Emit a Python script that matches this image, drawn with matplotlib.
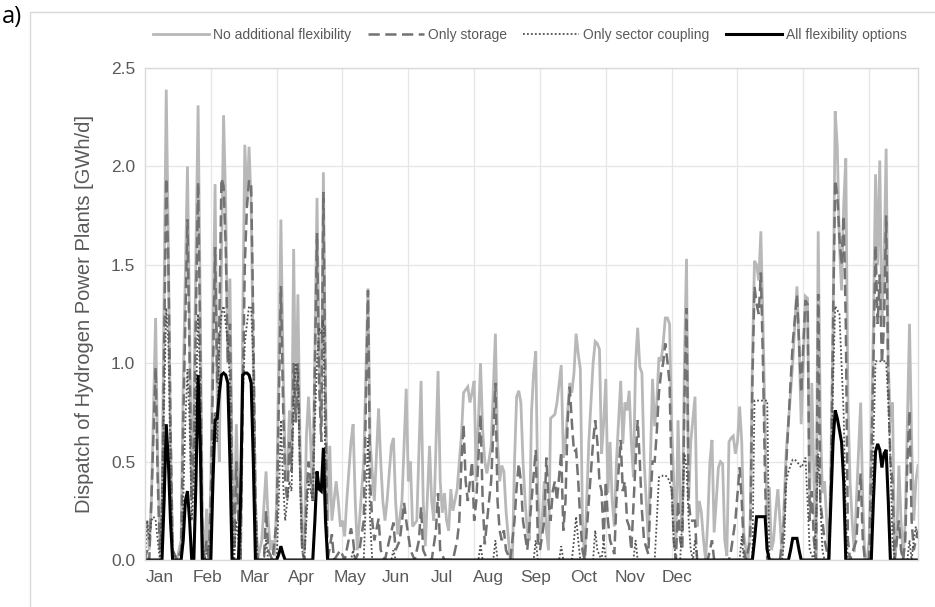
import matplotlib
matplotlib.use("Agg")
import matplotlib.pyplot as plt
from matplotlib.patches import Rectangle

plt.rcParams['font.family'] = ['Liberation Sans', 'DejaVu Sans']

# ---------------- data (day of year, GWh/d) ----------------
no_flex = [(0,0.18),(1,0.2),(2,0.05),(3,0.3),(5,1.23),(6,0.5),(7,0.1),(8,0.3),(10,2.39),(11,1.6),(12,0.6),(13,0.05),(15,0.0),(17,0.1),(18,0.9),(20,2.0),(21,1.2),(22,0.3),(23,0.8),(25,2.31),(26,1.3),(27,0.2),(28,0.0),(29,0.26),(30,0.0),(31,0.4),(33,1.91),(34,0.8),(35,0.5),(36,1.5),(37,2.26),(38,1.8),(39,1.0),(40,1.43),(41,0.5),(42,0.1),(43,0.69),(44,0.3),(45,0.05),(46,1.2),(47,2.11),(48,1.8),(49,2.1),(50,1.8),(51,1.0),(52,0.3),(53,0.0),(55,0.1),(57,0.45),(58,0.2),(59,0.05),(60,0.1),(61,0.02),(62,0.3),(64,1.73),(65,1.0),(66,0.5),(67,0.4),(68,0.76),(69,0.5),(70,1.58),(71,0.7),(72,1.35),(73,0.6),(74,0.1),(75,0.05),(76,0.63),(77,0.83),(78,0.6),(79,0.3),(81,1.84),(82,1.0),(83,0.7),(84,1.97),(85,0.9),(86,0.2),(87,0.58),(88,0.2),(90,0.4),(91,0.3),(92,0.17),(93,0.2),(94,0.12),(95,0.3),(97,0.6),(98,0.69),(99,0.3),(100,0.05),(101,0.2),(103,0.5),(105,1.38),(106,0.6),(107,0.45),(108,0.3),(110,0.77),(111,0.5),(112,0.3),(113,0.2),(114,0.3),(116,0.58),(117,0.62),(118,0.3),(119,0.13),(121,0.3),(123,0.87),(124,0.4),(125,0.5),(126,0.17),(128,0.2),(130,0.91),(131,0.3),(132,0.07),(134,0.58),(135,0.3),(136,0.2),(138,0.96),(139,0.4),(140,0.24),(141,0.34),(142,0.2),(143,0.15),(144,0.36),(145,0.25),(147,0.36),(148,0.5),(149,0.63),(150,0.85),(152,0.88),(153,0.8),(154,0.85),(155,0.91),(156,0.4),(158,1.0),(159,0.66),(160,0.5),(161,0.44),(163,0.58),(165,1.15),(166,0.6),(167,0.4),(168,0.48),(169,0.45),(170,0.25),(172,0.0),(173,0.0),(174,0.5),(175,0.83),(176,0.86),(177,0.8),(178,0.5),(179,0.3),(180,0.15),(181,0.1),(182,0.75),(183,0.95),(184,1.06),(185,0.34),(186,0.1),(187,0.2),(188,0.4),(189,0.15),(190,0.05),(191,0.72),(192,0.73),(193,0.74),(194,0.8),(196,0.99),(197,0.52),(198,0.6),(200,0.9),(201,0.85),(202,0.95),(203,1.15),(204,1.05),(205,0.97),(206,0.2),(207,0.0),(208,0.3),(209,0.6),(211,1.0),(212,1.11),(213,1.1),(214,1.07),(215,0.54),(216,0.7),(217,0.92),(218,0.34),(219,0.6),(220,0.3),(221,0.17),(222,0.5),(224,0.91),(225,0.59),(226,0.8),(227,0.76),(228,0.86),(229,0.6),(230,0.42),(231,1.0),(232,1.18),(233,0.98),(234,0.95),(235,0.51),(236,0.3),(237,0.1),(238,0.5),(239,0.92),(240,0.68),(241,0.8),(242,1.03),(243,1.01),(244,1.1),(245,1.23),(246,1.23),(247,1.2),(248,0.68),(249,0.4),(250,0.08),(251,0.71),(252,0.3),(253,0.14),(254,1.0),(255,1.53),(256,0.3),(257,0.6),(259,0.83),(260,0.17),(261,0.3),(262,0.24),(263,0.1),(264,0.0),(265,0.2),(266,0.5),(267,0.61),(268,0.14),(269,0.3),(270,0.47),(271,0.5),(272,0.49),(273,0.1),(274,0.02),(275,0.6),(276,0.62),(277,0.63),(278,0.54),(279,0.6),(280,0.78),(281,0.6),(282,0.13),(283,0.05),(284,0.0),(285,0.2),(286,1.0),(287,1.52),(288,1.5),(289,1.42),(290,1.67),(291,1.2),(292,0.68),(293,0.2),(294,0.37),(295,0.05),(296,0.1),(297,0.25),(298,0.36),(299,0.2),(300,0.02),(301,0.3),(302,0.56),(303,0.7),(304,0.85),(305,1.0),(306,1.2),(307,1.39),(308,1.1),(309,0.69),(310,1.0),(311,1.34),(312,1.33),(313,0.3),(314,0.9),(315,0.4),(316,0.02),(317,1.67),(318,0.7),(319,0.34),(320,0.4),(321,0.2),(322,0.0),(323,0.5),(324,1.2),(325,2.28),(326,2.1),(327,1.6),(328,1.37),(329,1.8),(330,2.04),(331,0.8),(332,0.4),(333,0.2),(334,0.04),(335,0.3),(337,0.8),(338,0.3),(339,0.0),(340,0.0),(341,0.1),(342,0.6),(343,1.2),(344,1.96),(345,1.5),(346,2.03),(347,1.2),(348,1.5),(349,2.09),(350,1.0),(351,0.7),(352,0.8),(353,0.0),(354,0.1),(355,0.48),(356,0.2),(357,0.0),(358,0.2),(359,0.7),(360,1.2),(361,0.6),(362,0.2),(363,0.4),(364,0.48)]

only_storage = [(0,0.0),(1,0.05),(2,0.0),(3,0.3),(5,0.98),(6,0.4),(7,0.05),(8,0.2),(10,1.94),(11,1.5),(12,0.7),(13,0.05),(15,0.0),(17,0.05),(18,0.7),(20,1.73),(21,1.0),(22,0.3),(23,0.6),(25,1.92),(26,1.1),(27,0.1),(28,0.0),(29,0.1),(30,0.0),(31,0.3),(33,1.59),(34,0.9),(35,1.2),(36,1.94),(37,1.9),(38,1.6),(39,1.0),(40,1.2),(41,0.4),(42,0.05),(43,0.5),(44,0.2),(45,0.0),(46,0.8),(47,1.5),(48,1.8),(49,1.93),(50,1.9),(51,1.2),(52,0.3),(53,0.0),(56,0.0),(57,0.25),(58,0.05),(60,0.0),(62,0.2),(64,1.39),(65,0.8),(66,0.4),(67,0.3),(68,0.6),(69,0.45),(70,1.0),(71,0.7),(72,1.0),(73,0.5),(74,0.05),(75,0.0),(76,0.3),(77,0.5),(78,0.4),(79,0.3),(81,1.66),(82,0.9),(83,0.6),(84,1.87),(85,0.8),(86,0.0),(88,0.13),(89,0.0),(92,0.05),(94,0.0),(97,0.16),(98,0.1),(99,0.0),(101,0.05),(103,0.2),(105,1.37),(106,0.4),(107,0.2),(108,0.1),(110,0.21),(111,0.05),(113,0.0),(115,0.1),(117,0.19),(118,0.05),(120,0.1),(122,0.29),(123,0.2),(125,0.05),(127,0.0),(129,0.1),(130,0.27),(131,0.05),(133,0.0),(135,0.0),(137,0.15),(138,0.34),(139,0.05),(141,0.0),(145,0.0),(147,0.1),(148,0.2),(149,0.5),(150,0.69),(151,0.4),(152,0.3),(153,0.4),(154,0.5),(155,0.2),(156,0.3),(158,0.74),(159,0.3),(160,0.08),(162,0.3),(163,0.4),(165,0.9),(166,0.3),(167,0.15),(168,0.1),(169,0.15),(170,0.05),(172,0.0),(174,0.2),(175,0.37),(176,0.49),(177,0.4),(178,0.2),(180,0.05),(182,0.3),(184,0.56),(185,0.1),(186,0.05),(188,0.2),(189,0.52),(190,0.3),(191,0.2),(192,0.35),(193,0.4),(194,0.3),(196,0.55),(197,0.15),(198,0.3),(199,0.7),(200,0.88),(201,0.7),(202,0.55),(203,0.56),(204,0.4),(205,0.2),(206,0.05),(207,0.0),(209,0.3),(211,0.6),(212,0.71),(213,0.6),(214,0.4),(215,0.35),(216,0.1),(217,0.4),(218,0.2),(219,0.1),(221,0.03),(222,0.3),(224,0.61),(225,0.35),(226,0.4),(227,0.2),(228,0.17),(229,0.05),(231,0.5),(232,0.71),(233,0.5),(234,0.25),(235,0.1),(237,0.03),(238,0.3),(239,0.5),(240,0.5),(241,0.65),(242,0.85),(243,0.95),(244,1.0),(245,1.1),(246,1.01),(247,0.9),(248,0.4),(249,0.1),(250,0.0),(251,0.3),(252,0.1),(253,0.05),(254,0.8),(255,1.28),(256,0.3),(257,0.2),(259,0.2),(260,0.0),(265,0.0),(266,0.05),(267,0.1),(268,0.0),(275,0.0),(276,0.05),(278,0.2),(280,0.47),(281,0.3),(282,0.05),(283,0.0),(285,0.1),(286,0.9),(287,1.39),(288,1.3),(289,1.25),(290,1.46),(291,1.0),(292,0.4),(293,0.0),(299,0.0),(301,0.2),(302,0.5),(303,0.7),(304,0.9),(305,1.1),(307,1.35),(308,1.1),(309,0.85),(310,1.1),(311,1.32),(312,1.3),(313,0.2),(314,0.35),(315,0.1),(316,0.0),(317,1.35),(318,0.3),(319,0.2),(320,0.1),(322,0.0),(323,0.4),(324,1.2),(325,1.93),(326,1.85),(327,1.64),(328,1.5),(329,1.75),(330,1.2),(331,0.1),(332,0.0),(335,0.1),(336,0.3),(337,0.44),(338,0.1),(339,0.0),(341,0.0),(342,0.5),(343,1.0),(344,1.6),(345,1.2),(346,1.45),(347,1.0),(348,1.2),(349,1.75),(350,0.9),(351,0.5),(352,0.4),(353,0.0),(355,0.2),(356,0.05),(357,0.0),(358,0.1),(359,0.5),(360,0.76),(361,0.2),(362,0.05),(363,0.1),(364,0.15)]

only_sector = [(0,0.0),(1,0.2),(2,0.1),(3,0.2),(4,0.22),(5,0.2),(6,0.1),(7,0.0),(8,0.3),(9,0.8),(10,1.28),(11,1.1),(12,0.5),(13,0.05),(15,0.0),(17,0.0),(18,0.3),(19,0.7),(20,0.97),(21,0.7),(22,0.2),(23,0.4),(24,0.8),(25,1.25),(26,0.9),(27,0.1),(28,0.0),(31,0.1),(32,0.6),(33,0.75),(34,0.6),(35,1.1),(36,1.25),(37,1.29),(38,1.2),(39,1.1),(40,0.9),(41,0.3),(42,0.0),(43,0.2),(44,0.1),(45,0.0),(46,0.8),(47,1.1),(48,1.2),(49,1.29),(50,1.28),(51,1.0),(52,0.3),(53,0.0),(56,0.0),(57,0.1),(58,0.0),(62,0.0),(63,0.3),(64,0.71),(65,0.4),(66,0.2),(67,0.3),(68,0.4),(69,0.35),(70,0.8),(71,1.0),(72,0.95),(73,0.4),(74,0.05),(75,0.0),(76,0.2),(77,0.4),(78,0.35),(79,0.3),(80,0.7),(81,1.0),(82,1.18),(83,1.15),(84,1.22),(85,0.4),(86,0.0),(97,0.0),(98,0.05),(99,0.0),(103,0.0),(104,0.3),(105,0.62),(106,0.2),(107,0.0),(116,0.0),(117,0.05),(118,0.0),(157,0.0),(158,0.08),(159,0.0),(164,0.0),(165,0.1),(166,0.0),(183,0.0),(184,0.1),(185,0.0),(195,0.0),(196,0.07),(197,0.0),(201,0.0),(202,0.1),(203,0.22),(204,0.1),(205,0.0),(211,0.0),(212,0.15),(213,0.05),(215,0.0),(216,0.1),(217,0.0),(230,0.0),(231,0.1),(232,0.0),(240,0.0),(241,0.2),(242,0.42),(243,0.42),(244,0.43),(245,0.43),(246,0.42),(247,0.4),(248,0.35),(249,0.1),(250,0.0),(252,0.0),(253,0.2),(254,0.54),(255,0.47),(256,0.2),(257,0.05),(258,0.0),(259,0.1),(260,0.0),(280,0.0),(281,0.12),(282,0.0),(286,0.0),(287,0.81),(293,0.81),(294,0.0),(300,0.0),(301,0.1),(302,0.4),(303,0.45),(304,0.48),(305,0.51),(306,0.51),(307,0.5),(309,0.47),(310,0.49),(311,0.52),(312,0.3),(313,0.05),(315,0.0),(316,0.2),(317,0.54),(318,0.3),(319,0.05),(320,0.0),(322,0.0),(323,0.4),(324,0.9),(325,1.29),(326,1.27),(327,1.25),(328,1.0),(329,0.74),(330,0.2),(331,0.0),(342,0.0),(343,0.6),(344,1.01),(349,1.01),(350,0.8),(351,0.5),(352,0.1),(353,0.0),(359,0.0),(360,0.1),(361,0.0),(362,0.1),(363,0.17),(364,0.1)]

all_options = [(0,0.0),(8,0.0),(9,0.3),(10,0.69),(11,0.5),(12,0.2),(13,0.0),(17,0.0),(18,0.1),(19,0.3),(20,0.35),(21,0.2),(22,0.0),(23,0.0),(24,0.4),(25,0.94),(26,0.6),(27,0.0),(31,0.0),(32,0.4),(33,0.71),(34,0.72),(35,0.85),(36,0.94),(37,0.95),(38,0.94),(39,0.9),(40,0.5),(41,0.0),(44,0.0),(45,0.3),(46,0.94),(47,0.95),(48,0.95),(49,0.94),(50,0.9),(51,0.5),(52,0.0),(62,0.0),(63,0.03),(64,0.07),(65,0.03),(66,0.0),(79,0.0),(80,0.2),(81,0.45),(82,0.36),(83,0.35),(84,0.57),(85,0.2),(86,0.0),(286,0.0),(287,0.1),(288,0.22),(292,0.22),(293,0.05),(294,0.0),(303,0.0),(304,0.05),(305,0.11),(307,0.11),(308,0.05),(309,0.0),(322,0.0),(323,0.3),(324,0.6),(325,0.76),(326,0.72),(327,0.66),(328,0.6),(329,0.4),(330,0.0),(342,0.0),(343,0.3),(344,0.55),(345,0.59),(346,0.56),(347,0.47),(348,0.54),(349,0.56),(350,0.3),(351,0.0),(364,0.0)]

series_names = ["No additional flexibility", "Only storage", "Only sector coupling", "All flexibility options"]
month_labels = ["Jan", "Feb", "Mar", "Apr", "May", "Jun", "Jul", "Aug", "Sep", "Oct", "Nov", "Dec"]
y_ticks = [0.0, 0.5, 1.0, 1.5, 2.0, 2.5]

# ---------------- figure ----------------
W, H = 935, 607
fig = plt.figure(figsize=(W / 100, H / 100), dpi=100)
ax = fig.add_axes([145 / W, 1 - 560 / H, (918 - 145) / W, (560 - 68) / H])

# outer chart frame
fig.patches.append(Rectangle((30 / W, -0.05), 1.0, 1 - 12 / H + 0.05, transform=fig.transFigure,
                             fill=False, edgecolor="#d9d9d9", linewidth=1.0))
fig.text(2 / W, 1 - 17 / H, "a)", fontsize=17, va="center", ha="left", color="black",
         family=["Open Sans", "DejaVu Sans"])

def split(pairs):
    return [p[0] for p in pairs], [p[1] for p in pairs]

styles = [
    dict(color="#b8b8b8", lw=2.0, ls="-"),
    dict(color="#727272", lw=1.8, ls=(0, (4.5, 2.2))),
    dict(color="#505050", lw=1.3, ls=(0, (1, 1.2))),
    dict(color="#000000", lw=2.2, ls="-"),
]
handles = []
for data, name, st in zip([no_flex, only_storage, only_sector, all_options], series_names, styles):
    xs, ys = split(data)
    h, = ax.plot(xs, ys, color=st["color"], lw=st["lw"], linestyle=st["ls"], label=name,
                 solid_joinstyle="miter", dash_joinstyle="miter")
    handles.append(h)

ax.set_xlim(0, 364)
ax.set_ylim(0, 2.5)
ax.set_yticks(y_ticks)
ax.set_yticklabels([f"{v:.1f}" for v in y_ticks])

# month labels (as placed in the original chart)
label_pos = [7, 29.5, 51.7, 73.8, 96.4, 118.0, 139.7, 161.8, 183.9, 206.5, 228.6, 250.6]
ax.set_xticks(label_pos)
ax.set_xticklabels(month_labels)
ax.set_xticks([31 * k for k in range(1, 12)], minor=True)

ax.grid(True, which="major", axis="y", color="#e6e6e6", lw=0.9)
ax.grid(True, which="minor", axis="x", color="#e6e6e6", lw=0.9)
ax.set_axisbelow(True)
ax.tick_params(which="both", length=0, labelsize=12.5, colors="#595959", pad=7)
for s in ax.spines.values():
    s.set_color("#d9d9d9")
    s.set_linewidth(1.0)

ax.set_ylabel("Dispatch of Hydrogen Power Plants [GWh/d]", fontsize=14.5, color="#595959", labelpad=12)

fig.legend(handles=handles, labels=series_names, loc="center", bbox_to_anchor=(530 / W, 1 - 35 / H),
           ncol=4, frameon=False, fontsize=10, handlelength=4.0, handletextpad=0.3, columnspacing=1.2,
           labelcolor="#595959")

fig.savefig("out.png", dpi=100)
